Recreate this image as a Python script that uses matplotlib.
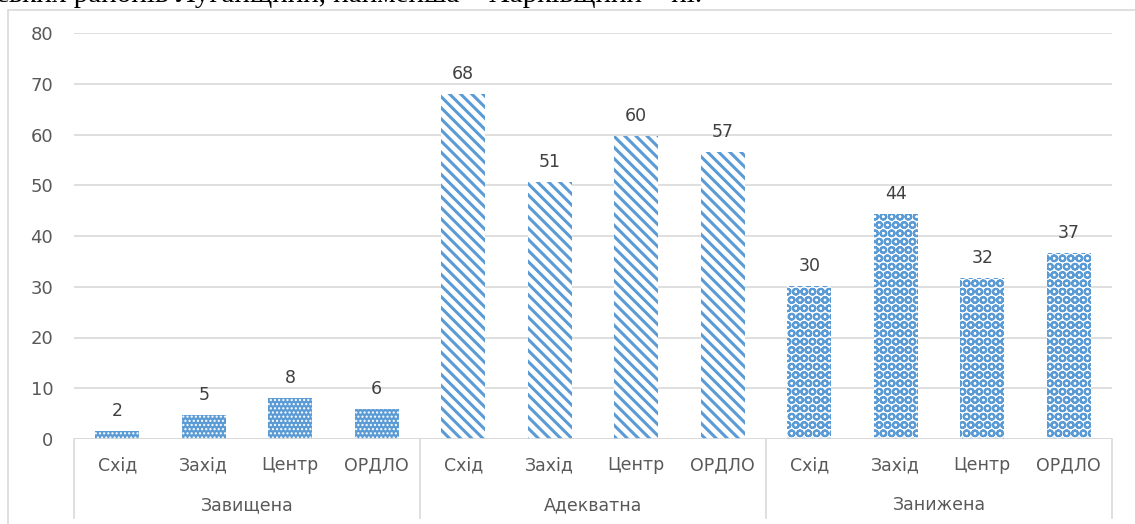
import matplotlib
matplotlib.use("Agg")
import matplotlib.pyplot as plt
from matplotlib.patches import Rectangle
from matplotlib.lines import Line2D

groups = ["Завищена", "Адекватна", "Занижена"]
regions = ["Схід", "Захід", "Центр", "ОРДЛО"]
vals_over = [1.5, 4.8, 8.1, 5.9]
vals_adequate = [68.0, 50.6, 59.7, 56.6]
vals_under = [30.1, 44.3, 31.7, 36.6]
yticks = [0, 10, 20, 30, 40, 50, 60, 70, 80]
caption = "ських районів Луганщини, найменша – Харківщини – ні."

W, H = 1135, 524
fig = plt.figure(figsize=(W / 100, H / 100), dpi=100)
fig.patch.set_facecolor("white")

def fx(px):
    return px / W

def fy(py):
    return 1 - py / H

FONT = "DejaVu Sans"
FS = 12.5

# outer chart frame
fig.add_artist(Rectangle((fx(8), fy(540)), fx(1140) - fx(8), fy(10) - fy(540),
                         transform=fig.transFigure, fill=False,
                         edgecolor="#D9D9D9", linewidth=1.2))
# caption of the surrounding document, cut by the top edge as in the reference
fig.text(fx(-4), fy(-5), caption, family="Liberation Serif", fontsize=21,
         color="black", ha="left", va="center")

left, right, top, bottom = 74, 1112, 33, 439
ax = fig.add_axes([fx(left), fy(bottom), fx(right) - fx(left), fy(top) - fy(bottom)])
ax.set_xlim(0, 12)
ax.set_ylim(0, 80)
for s in ax.spines.values():
    s.set_visible(False)
ax.set_yticks(yticks)
ax.set_yticklabels([str(t) for t in yticks])
ax.tick_params(axis="y", length=0, pad=15, labelsize=13, labelcolor="#595959")
for lab in ax.get_yticklabels():
    lab.set_family(FONT)
ax.set_xticks([])
ax.grid(axis="y", color="#D9D9D9", linewidth=1.2)
ax.set_axisbelow(True)
ax.axhline(0, color="#D9D9D9", linewidth=1.2)

blue = "#5B9BD5"
styles = [
    dict(facecolor=blue, edgecolor="white", hatch="...."),
    dict(facecolor="white", edgecolor=blue, hatch="\\\\\\"),
    dict(facecolor="white", edgecolor=blue, hatch="OO"),
]
hatch_lw = [1.0, 2.2, 1.5]
all_vals = [vals_over, vals_adequate, vals_under]
bw = 0.51
for g, vals in enumerate(all_vals):
    xs = [g * 4 + i + 0.5 for i in range(len(vals))]
    bars = ax.bar(xs, vals, width=bw, linewidth=0, **styles[g])
    for b in bars:
        try:
            b.set_hatch_linewidth(hatch_lw[g])
        except AttributeError:
            pass
    for x, v in zip(xs, vals):
        ax.annotate(f"{v:.0f}", (x, v), xytext=(0, 8), textcoords="offset points",
                    ha="center", va="bottom", fontsize=FS, color="#404040",
                    family=FONT)

# category labels and separators
trans = ax.get_xaxis_transform()
for g, name in enumerate(groups):
    for i, r in enumerate(regions):
        ax.text(g * 4 + i + 0.5, (bottom - 465) / (bottom - top), r,
                transform=trans, ha="center", va="center", fontsize=FS,
                color="#595959", family=FONT)
    ax.text(g * 4 + 2, (bottom - 505) / (bottom - top), name, transform=trans,
            ha="center", va="center", fontsize=FS, color="#595959",
            family=FONT)
for xsep in [0, 4, 8, 12]:
    ax.add_line(Line2D([xsep, xsep], [0, (bottom - 518) / (bottom - top)],
                       transform=trans, color="#D9D9D9", linewidth=1.2,
                       clip_on=False))

fig.savefig("out.png", dpi=100)
